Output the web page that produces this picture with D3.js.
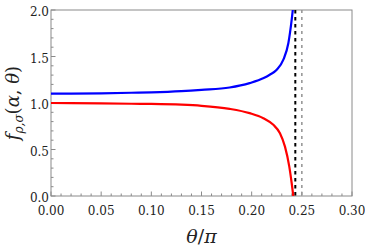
<!DOCTYPE html>
<html>
<head>
<meta charset="utf-8">
<script src="https://cdn.jsdelivr.net/npm/d3@7"></script>
<style>
  body { margin: 0; background: #fff; }
  svg { display: block; }
  svg text { font-family: "DejaVu Serif", serif; }
</style>
</head>
<body>
<figure id="chart" style="margin:0"></figure>
<script>
// theta/pi sample points
const thetaBlue = [0, 0.02, 0.05, 0.08, 0.10, 0.13, 0.15, 0.178, 0.198, 0.212, 0.218, 0.225, 0.2316, 0.2366, 0.2399, 0.2412];
const fBlue     = [1.100, 1.101, 1.104, 1.110, 1.115, 1.128, 1.142, 1.167, 1.214, 1.268, 1.304, 1.358, 1.466, 1.645, 1.896, 2.02];

const thetaRed = [0, 0.02, 0.05, 0.08, 0.10, 0.13, 0.15, 0.178, 0.198, 0.2116, 0.2216, 0.2282, 0.2332, 0.2375, 0.2399, 0.2415];
const fRed     = [1.000, 0.999, 0.996, 0.992, 0.990, 0.982, 0.970, 0.937, 0.891, 0.837, 0.765, 0.675, 0.531, 0.316, 0.137, 0.0];

const vLineBlack = 0.2435;
const vLineGray = 0.25;

const xTicks = [0, 0.05, 0.10, 0.15, 0.20, 0.25, 0.30];
const yTicks = [0, 0.5, 1.0, 1.5, 2.0];

const W = 365, H = 249;
const m = { left: 51, right: 13, top: 10, bottom: 53 };
const iw = W - m.left - m.right;
const ih = H - m.top - m.bottom;

const svg = d3.select("#chart").append("svg")
  .attr("width", W).attr("height", H);
const g = svg.append("g").attr("transform", `translate(${m.left},${m.top})`);

const x = d3.scaleLinear().domain([0, 0.30]).range([0, iw]);
const y = d3.scaleLinear().domain([0, 2.0]).range([ih, 0]);

// clip so curves stop at the frame
g.append("clipPath").attr("id", "clip")
  .append("rect").attr("width", iw).attr("height", ih);

const frameColor = "#8a8a8a";

// minor + major ticks, drawn inward
const xMinor = d3.range(0, 0.3001, 0.01);
const yMinor = d3.range(0, 2.0001, 0.1);

g.selectAll(".xt").data(xMinor).join("line")
  .attr("x1", d => x(d)).attr("x2", d => x(d))
  .attr("y1", ih).attr("y2", (d, i) => ih - (i % 5 === 0 ? 4.5 : 2.5))
  .attr("stroke", frameColor).attr("stroke-width", 1);

g.selectAll(".yt").data(yMinor).join("line")
  .attr("y1", d => y(d)).attr("y2", d => y(d))
  .attr("x1", 0).attr("x2", (d, i) => (i % 5 === 0 ? 4.5 : 2.5))
  .attr("stroke", frameColor).attr("stroke-width", 1);

// frame
g.append("rect").attr("width", iw).attr("height", ih)
  .attr("fill", "none").attr("stroke", frameColor).attr("stroke-width", 1);

// tick labels
g.selectAll(".xl").data(xTicks).join("text")
  .attr("x", d => x(d)).attr("y", ih + 19)
  .attr("text-anchor", "middle")
  .attr("fill", "#222")
  .attr("font-size", 12)
  .text(d => d3.format(".2f")(d));

g.selectAll(".yl").data(yTicks).join("text")
  .attr("x", -2).attr("y", d => y(d) + 6)
  .attr("text-anchor", "end")
  .attr("fill", "#222")
  .attr("font-size", 12)
  .text(d => d3.format(".1f")(d));

// dashed verticals
g.append("line")
  .attr("x1", x(vLineGray)).attr("x2", x(vLineGray))
  .attr("y1", 0).attr("y2", ih)
  .attr("stroke", "#999").attr("stroke-width", 1.6)
  .attr("stroke-dasharray", "3,4");

g.append("line")
  .attr("x1", x(vLineBlack)).attr("x2", x(vLineBlack))
  .attr("y1", 0).attr("y2", ih)
  .attr("stroke", "#000").attr("stroke-width", 2)
  .attr("stroke-dasharray", "3.5,3.5");

// curves
const line = d3.line().curve(d3.curveMonotoneX)
  .x(d => x(d[0])).y(d => y(d[1]));

g.append("path")
  .datum(d3.zip(thetaBlue, fBlue))
  .attr("clip-path", "url(#clip)")
  .attr("fill", "none").attr("stroke", "#0000ff").attr("stroke-width", 2.2)
  .attr("d", line);

g.append("path")
  .datum(d3.zip(thetaRed, fRed))
  .attr("clip-path", "url(#clip)")
  .attr("fill", "none").attr("stroke", "#ff0000").attr("stroke-width", 2.2)
  .attr("d", line);

// axis titles
svg.append("text")
  .attr("x", m.left + iw / 2).attr("y", 243)
  .attr("text-anchor", "middle")
  .attr("fill", "#222")
  .attr("font-size", 19).attr("font-style", "italic")
  .html('θ<tspan font-style="normal">/</tspan>π');

svg.append("text")
  .attr("transform", `translate(19,${m.top + ih / 2}) rotate(-90)`)
  .attr("text-anchor", "middle")
  .attr("fill", "#222")
  .attr("font-size", 18)
  .html('<tspan font-style="italic">f</tspan><tspan font-style="italic" font-size="12" dy="4">ρ,σ</tspan><tspan dy="-4">(</tspan><tspan font-style="italic">α</tspan>, <tspan font-style="italic">θ</tspan>)');
</script>
</body>
</html>
